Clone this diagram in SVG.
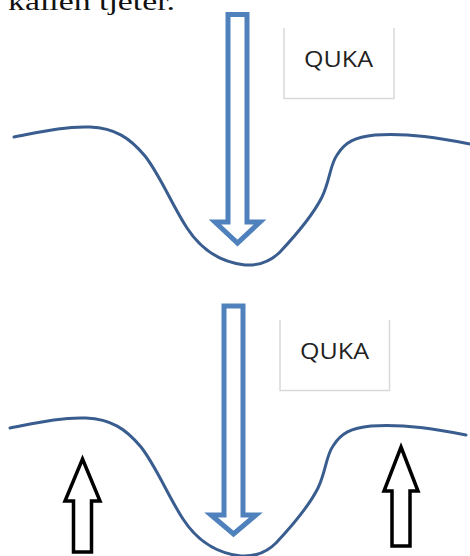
<svg xmlns="http://www.w3.org/2000/svg" width="470" height="556" viewBox="0 0 470 556">
<style>
.cap{font-family:"Liberation Serif",serif;font-size:26px;fill:#111}
.box{fill:#fff;stroke:#d9d9d9;stroke-width:1.5}
.lbl{font-family:"Open Sans","Liberation Sans",sans-serif;font-size:22px;fill:#222;text-anchor:middle}
.ground{fill:none;stroke:#3a5d8f;stroke-width:3;stroke-linecap:round}
.down{fill:#fff;stroke:#4f81bd;stroke-width:5;stroke-linejoin:miter}
.up{fill:#fff;stroke:#000;stroke-width:3.5;stroke-linejoin:miter}
</style>
<defs>
<path id="curve" d="M14,137 C40,132 65,126 90,127 C115,128 130,138 145,156 C160,175 172,205 187,228 C200,248 218,262 245,265 C262,266 272,260 280,252 C295,236 313,215 322,197 C330,180 330,165 337,155 C345,142 355,137 375,135 C410,133 440,138 470,144"/>
</defs>
<rect width="470" height="556" fill="#fff"/>
<text class="cap" x="8" y="10" textLength="167" lengthAdjust="spacingAndGlyphs">kallen tjetër.</text>

<g id="panel1">
  <g id="ground1"><use href="#curve" class="ground"/></g>
  <g id="label1">
    <path class="box" d="M284,28 V98.5 H394 V28"/>
    <text class="lbl" x="338.5" y="66.5" textLength="69" lengthAdjust="spacingAndGlyphs">QUKA</text>
  </g>
</g>

<g id="panel2">
  <g id="ground2"><use href="#curve" class="ground" transform="translate(-4,291)"/></g>
  <g id="label2">
    <path class="box" d="M280,320 V390.5 H389.5 V320"/>
    <text class="lbl" x="334.5" y="359" textLength="69" lengthAdjust="spacingAndGlyphs">QUKA</text>
  </g>
</g>

<g id="connectors">
  <path id="down1" class="down" d="M228,14.5 L247,14.5 L247,222 L260,222 L237.5,243 L215,222 L228,222 Z"/>
  <path id="down2" class="down" d="M224,306 L243,306 L243,515 L256,515 L233.5,534 L211,515 L224,515 Z"/>
  <path id="up1" class="up" d="M82.5,459 L100,501 L91.5,501 L91.5,552 L73.5,552 L73.5,501 L65,501 Z"/>
  <path id="up2" class="up" d="M401,447 L418,491 L410,491 L410,546 L392,546 L392,491 L384,491 Z"/>
</g>
</svg>
